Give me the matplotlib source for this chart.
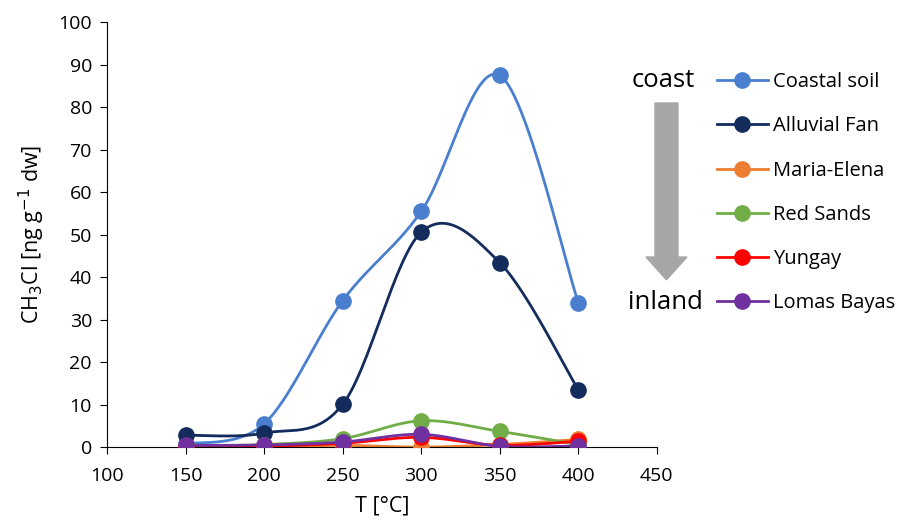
import numpy as np
import matplotlib
matplotlib.use("Agg")
from matplotlib import pyplot as plt
from matplotlib.lines import Line2D
from matplotlib.patches import FancyArrow

plt.rcParams['font.family'] = ['Open Sans', 'DejaVu Sans']

temps = [150, 200, 250, 300, 350, 400]
coastal = [0.7, 5.5, 34.5, 55.5, 87.5, 34.0]
alluvial = [2.8, 3.3, 10.1, 50.6, 43.4, 13.5]
maria = [0.0, 0.1, 0.4, 0.0, 0.6, 1.8]
red_sands = [0.3, 0.6, 2.0, 6.2, 3.7, 0.6]
yungay = [0.0, 0.2, 0.9, 2.3, 0.4, 1.4]
lomas = [0.4, 0.5, 1.2, 3.0, 0.2, 0.3]

names = ['Coastal soil', 'Alluvial Fan', 'Maria-Elena', 'Red Sands', 'Yungay', 'Lomas Bayas']
series = [coastal, alluvial, maria, red_sands, yungay, lomas]
colors = ['#4a7fd0', '#142c5c', '#ed7d31', '#70ad47', '#ff0000', '#7030a0']


def smooth(x, y, n=30):
    # excel-like smoothed line (catmull-rom -> bezier), done in scaled space
    x = np.asarray(x, float) / 350.0 * 5.5
    y = np.asarray(y, float) / 100.0 * 4.25
    px, py = [], []
    m = len(x)
    for i in range(m - 1):
        p0 = (x[max(i - 1, 0)], y[max(i - 1, 0)])
        p1 = (x[i], y[i])
        p2 = (x[i + 1], y[i + 1])
        p3 = (x[min(i + 2, m - 1)], y[min(i + 2, m - 1)])
        c1 = (p1[0] + (p2[0] - p0[0]) / 6, p1[1] + (p2[1] - p0[1]) / 6)
        c2 = (p2[0] - (p3[0] - p1[0]) / 6, p2[1] - (p3[1] - p1[1]) / 6)
        t = np.linspace(0, 1, n)
        bx = (1-t)**3*p1[0] + 3*(1-t)**2*t*c1[0] + 3*(1-t)*t**2*c2[0] + t**3*p2[0]
        by = (1-t)**3*p1[1] + 3*(1-t)**2*t*c1[1] + 3*(1-t)*t**2*c2[1] + t**3*p2[1]
        px.extend(bx)
        py.extend(by)
    return np.array(px) * 350.0 / 5.5, np.array(py) * 100.0 / 4.25


fig = plt.figure(figsize=(9.01, 5.31), dpi=100)
ax = fig.add_axes([0.119, 0.158, 0.61, 0.8])

handles = []
for vals, name, c in zip(series, names, colors):
    sx, sy = smooth(temps, vals)
    ax.plot(sx, sy, color=c, lw=2, zorder=2)
    ax.plot(temps, vals, 'o', color=c, ms=11, zorder=3)
    handles.append(Line2D([], [], color=c, lw=2, marker='o', ms=11, label=name))

ax.set_xlim(100, 450)
ax.set_ylim(0, 100)
ax.set_xticks(range(100, 451, 50))
ax.set_yticks(range(0, 101, 10))
ax.spines['top'].set_visible(False)
ax.spines['right'].set_visible(False)
ax.tick_params(labelsize=14, length=5, direction='out', pad=6)
ax.tick_params(axis='x', pad=9)
ax.set_xlabel('T [°C]', fontsize=15.5, labelpad=8)
ax.set_ylabel('CH$_3$Cl [ng g$^{-1}$ dw]', fontsize=15.5, labelpad=8)

fig.legend(handles=handles, loc='upper left', bbox_to_anchor=(0.796, 0.864),
           frameon=False, fontsize=14.5, labelspacing=1.2, handlelength=2.5,
           handletextpad=0.25, borderaxespad=0, borderpad=0)

fig.text(0.736, 0.849, 'coast', fontsize=18.5, ha='center', va='center')
fig.text(0.738, 0.431, 'inland', fontsize=18.5, ha='center', va='center')
fig.patches.append(FancyArrow(0.7397, 0.806, 0, -0.333, width=0.0255,
                              head_width=0.0455, head_length=0.043,
                              length_includes_head=True, color='#a6a6a6',
                              transform=fig.transFigure, figure=fig))

fig.savefig('out.png', dpi=100)
